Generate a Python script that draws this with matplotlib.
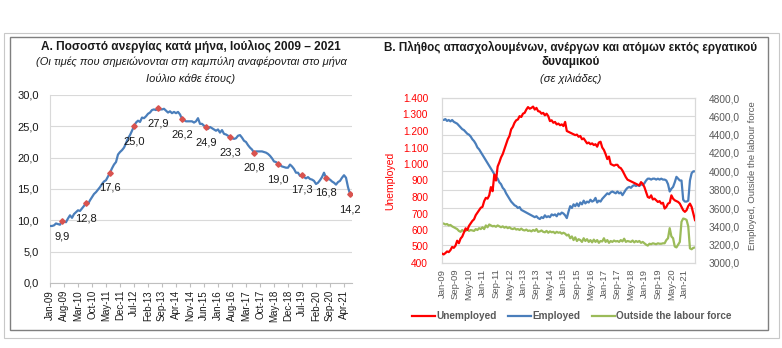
import numpy as np
import pandas as pd
import matplotlib
matplotlib.use("Agg")
import matplotlib.pyplot as plt
from matplotlib.patches import Rectangle
from matplotlib.ticker import FuncFormatter

plt.rcParams["font.family"] = ["Liberation Sans", "DejaVu Sans"]

W, H = 782, 348

months = pd.date_range("2009-01-01", periods=151, freq="MS").strftime("%b-%y").tolist()

# unemployment rate (%), Jan-09 .. Jul-21
rate = [
    9.1, 9.1, 9.2, 9.5, 9.4, 9.3, 9.9, 9.8, 9.7, 10.3, 10.8, 10.4,
    11.0, 11.3, 11.6, 11.5, 11.9, 12.3, 12.8, 12.6, 13.2, 13.7, 14.2, 14.5,
    14.9, 15.3, 15.8, 16.2, 16.4, 17.0, 17.6, 18.3, 18.9, 19.3, 20.5, 20.9,
    21.2, 21.6, 22.3, 23.1, 23.6, 24.3, 25.0, 25.6, 25.9, 25.7, 26.4, 26.3,
    26.6, 27.0, 27.2, 27.6, 27.7, 27.6, 27.9, 27.7, 27.7, 27.8, 27.5, 27.2,
    27.4, 27.1, 27.3, 27.1, 27.3, 26.9, 26.2, 26.0, 25.8, 25.8, 25.8, 25.8,
    25.6, 25.8, 26.3, 25.4, 25.4, 25.1, 24.9, 24.6, 24.9, 24.7, 24.5, 24.3,
    24.5, 24.0, 24.4, 23.8, 23.7, 23.5, 23.3, 23.1, 23.0, 23.1, 23.5, 23.6,
    23.2, 22.7, 22.5, 22.0, 21.6, 21.3, 20.8, 21.0, 21.0, 21.0, 21.0, 20.9,
    20.8, 20.6, 20.3, 19.9, 19.4, 19.3, 19.0, 18.8, 18.6, 18.5, 18.4, 18.4,
    18.9, 18.6, 18.2, 17.6, 17.6, 17.1, 17.3, 16.9, 16.7, 16.9, 16.6, 16.5,
    16.3, 15.8, 16.0, 16.4, 16.9, 17.6, 16.8, 16.6, 16.5, 16.2, 16.0, 15.7,
    16.1, 16.3, 16.8, 17.2, 16.8, 15.3, 14.2,
]

# thousands of persons, Jan-09 .. Jul-21
unemployed = [
    457, 452, 460, 470, 466, 478, 497, 492, 505, 535, 520, 548,
    560, 585, 610, 600, 625, 640, 655, 665, 690, 705, 720, 735,
    740, 775, 795, 790, 810, 860, 835, 935, 900, 985, 1010, 1040,
    1060, 1090, 1120, 1150, 1170, 1210, 1225, 1250, 1265, 1270, 1290, 1285,
    1305, 1310, 1330, 1345, 1335, 1340, 1348, 1330, 1340, 1320, 1318, 1305,
    1310, 1295, 1305, 1290, 1260, 1265, 1250, 1255, 1240, 1245, 1235, 1240,
    1230, 1255, 1200, 1195, 1190, 1185, 1180, 1175, 1178, 1165, 1170, 1150,
    1155, 1140, 1125, 1130, 1120, 1125, 1115, 1120, 1105, 1130, 1135, 1100,
    1085, 1060, 1030, 1045, 1000, 995, 990, 995, 995, 980, 975, 960,
    940, 920, 905, 900, 895, 890, 885, 880, 875, 870, 890, 880,
    860, 830, 800, 795, 810, 785, 790, 780, 770, 775, 760, 765,
    730, 740, 760, 765, 810, 790, 780, 775, 770, 760, 740, 720,
    710, 720, 745, 760, 740, 700, 660,
]
employed = [
    4565, 4560, 4570, 4550, 4560, 4545, 4560, 4540, 4530, 4520, 4500, 4480,
    4460, 4450, 4430, 4410, 4400, 4380, 4350, 4330, 4300, 4260, 4240, 4210,
    4180, 4150, 4120, 4090, 4060, 4030, 4000, 3970, 3940, 3920, 3880, 3860,
    3820, 3800, 3760, 3730, 3700, 3670, 3650, 3630, 3620, 3600, 3610, 3580,
    3570, 3560, 3550, 3540, 3530, 3520, 3510, 3500, 3510, 3490, 3480, 3500,
    3490, 3520, 3500, 3510, 3500, 3530, 3520, 3530, 3510, 3540, 3530, 3550,
    3540, 3520, 3490, 3560, 3620, 3600, 3640, 3620, 3650, 3620, 3660, 3640,
    3680, 3650, 3670, 3660, 3690, 3670, 3680, 3710, 3660, 3680, 3670, 3700,
    3720, 3740, 3760, 3750, 3770, 3780, 3770, 3760, 3780, 3760, 3770, 3740,
    3770, 3800, 3820, 3830, 3820, 3840, 3850, 3840, 3850, 3840, 3860, 3850,
    3870, 3900, 3920, 3920, 3910, 3920, 3920, 3910, 3920, 3910, 3920, 3910,
    3910, 3900, 3860, 3780, 3810, 3830, 3880, 3940, 3920, 3900, 3900, 3690,
    3670, 3670, 3680, 3900, 3980, 4000, 4000,
]
outside = [
    3435, 3430, 3420, 3425, 3410, 3415, 3400, 3390, 3380, 3370, 3350, 3340,
    3360, 3345, 3350, 3370, 3350, 3360, 3355, 3350, 3370, 3360, 3380, 3370,
    3390, 3370, 3410, 3390, 3420, 3410, 3400, 3405, 3395, 3410, 3400, 3390,
    3400, 3385, 3395, 3380, 3390, 3375, 3370, 3380, 3365, 3370, 3360, 3375,
    3360, 3355, 3365, 3350, 3355, 3345, 3360, 3350, 3370, 3340, 3345, 3355,
    3340, 3335, 3350, 3330, 3345, 3335, 3340, 3325, 3340, 3330, 3335, 3320,
    3330, 3320, 3300, 3310, 3270, 3290, 3250, 3280, 3240, 3260, 3250, 3230,
    3270, 3240, 3260, 3230, 3250, 3225, 3255, 3230, 3250, 3220, 3240, 3235,
    3270, 3230, 3250, 3220, 3240, 3230, 3245, 3235, 3240, 3230, 3250, 3235,
    3265, 3230, 3240, 3235, 3230, 3245, 3225, 3240, 3230, 3240, 3220, 3230,
    3215, 3200, 3190, 3210, 3205, 3215, 3210, 3205, 3215, 3210, 3210, 3215,
    3215, 3250, 3270, 3380, 3290, 3270, 3180, 3170, 3200, 3230, 3450, 3485,
    3480, 3470, 3400, 3160, 3150, 3165, 3170,
]

BLUE = "#4a7ebb"
RED = "#ff0000"
GREEN = "#9bbb59"
GREY = "#595959"
GRID = "#d9d9d9"
INK = "#1a1a1a"

fig = plt.figure(figsize=(W / 100, H / 100), dpi=100)


def box(x0, y0, x1, y1, color, lw):
    # rectangle in pixel coordinates (origin top-left)
    fig.add_artist(Rectangle((x0 / W, 1 - y1 / H), (x1 - x0) / W, (y1 - y0) / H,
                             transform=fig.transFigure, fill=False,
                             edgecolor=color, linewidth=lw))


def ftext(x, y, s, **kw):
    fig.text(x / W, 1 - y / H, s, ha="center", va="center", **kw)


box(4, 33, 779, 338, "#c8c8c8", 0.8)
box(10, 37, 768, 330, "#7f7f7f", 1.0)

# ---- A: unemployment rate ----
ftext(191, 46, "Α. Ποσοστό ανεργίας κατά μήνα, Ιούλιος 2009 – 2021",
      fontsize=8.6, fontweight="bold", color=INK)
ftext(191, 62, "(Οι τιμές που σημειώνονται στη καμπύλη αναφέρονται στο μήνα",
      fontsize=8, style="italic", color=INK)
ftext(191, 79, "Ιούλιο κάθε έτους)", fontsize=8, style="italic", color=INK)

x = np.arange(len(months))
ax1 = fig.add_axes([50 / W, 1 - 283 / H, 302 / W, 188 / H])
ax1.plot(x, rate, color=BLUE, linewidth=1.6, zorder=3)
july = x[6::12]
july_vals = [rate[i] for i in july]
ax1.plot(july, july_vals, linestyle="none", marker="D", markersize=2.8,
         color="#d9534f", zorder=4)
for i, v in zip(july, july_vals):
    ax1.annotate(f"{v:.1f}".replace(".", ","), (i, v), xytext=(0, -11),
                 textcoords="offset points", ha="center", va="center",
                 fontsize=8, color=INK)
ax1.set_xlim(0, 151)
ax1.set_ylim(0, 30)
ax1.set_yticks(np.arange(0, 31, 5))
ax1.yaxis.set_major_formatter(FuncFormatter(lambda v, p: f"{v:.1f}".replace(".", ",")))
ax1.grid(axis="y", color=GRID, linewidth=0.8)
ax1.set_axisbelow(True)
ax1.set_xticks(x[::7])
ax1.set_xticklabels(months[::7], rotation=90, fontsize=7, color=INK)
ax1.tick_params(axis="y", length=0, pad=8, labelsize=8, labelcolor=INK)
ax1.tick_params(axis="x", length=3, color="#bfbfbf", pad=2)
for s in ["top", "right"]:
    ax1.spines[s].set_visible(False)
ax1.spines["left"].set_color("#d9d9d9")
ax1.spines["bottom"].set_color("#bfbfbf")

# ---- B: employed, unemployed, outside the labour force ----
ftext(571, 47, "Β. Πλήθος απασχολουμένων, ανέργων και ατόμων εκτός εργατικού",
      fontsize=8.4, fontweight="bold", color=INK)
ftext(571, 62, "δυναμικού", fontsize=8.4, fontweight="bold", color=INK)
ftext(571, 79, "(σε χιλιάδες)", fontsize=8, style="italic", color=INK)

ax2 = fig.add_axes([442 / W, 1 - 263 / H, 253 / W, 165 / H])
ax3 = ax2.twinx()
l1, = ax2.plot(x, unemployed, color=RED, linewidth=1.6, zorder=3, label="Unemployed")
l2, = ax3.plot(x, employed, color=BLUE, linewidth=1.6, label="Employed")
l3, = ax3.plot(x, outside, color=GREEN, linewidth=1.6, label="Outside the labour force")
ax2.set_zorder(ax3.get_zorder() + 1)
ax2.patch.set_visible(False)

ax2.set_xlim(0, 150)
ax2.set_ylim(400, 1400)
ax3.set_ylim(3000, 4800)
ax2.set_yticks(np.arange(400, 1401, 100))
ax3.set_yticks(np.arange(3000, 4801, 200))
ax2.yaxis.set_major_formatter(FuncFormatter(lambda v, p: f"{int(v):,}".replace(",", ".")))
ax3.yaxis.set_major_formatter(FuncFormatter(lambda v, p: f"{v:.1f}".replace(".", ",")))
ax3.grid(axis="y", color=GRID, linewidth=0.8)
ax2.set_xticks(x[::8])
ax2.set_xticklabels(months[::8], rotation=90, fontsize=6.8, color=GREY)
ax2.tick_params(axis="x", length=0, pad=4)
ax2.tick_params(axis="y", length=0, pad=10, labelsize=7.3, labelcolor=RED)
ax3.tick_params(axis="y", length=0, pad=10, labelsize=7.3, labelcolor=GREY)
for a in (ax2, ax3):
    for s in a.spines.values():
        s.set_color("#d9d9d9")
        s.set_linewidth(0.8)
ax2.set_ylabel("Unemployed", color=RED, fontsize=7.5)
ax2.yaxis.set_label_coords((395 - 442) / 253, 0.5)
ax3.set_ylabel("Employed, Outside the labour force", color=GREY, fontsize=6.8)
ax3.yaxis.set_label_coords((748 - 442) / 253, 0.53)

fig.legend(handles=[l1, l2, l3], loc="center", bbox_to_anchor=(572 / W, 1 - 316 / H),
           ncol=3, frameon=False, handlelength=2.3, handletextpad=0.15,
           columnspacing=1.1, prop={"size": 7.2, "weight": "bold"},
           labelcolor=GREY)

fig.savefig("out.png", dpi=100)
